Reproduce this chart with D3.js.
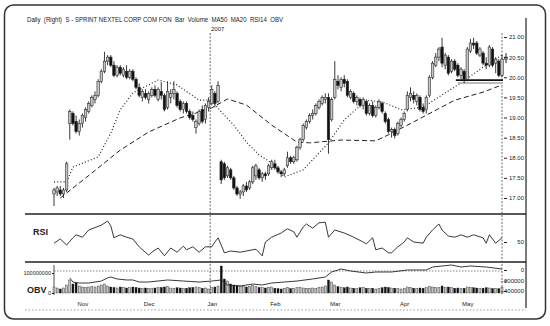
<!DOCTYPE html>
<html>
<head>
<meta charset="utf-8">
<script src="https://cdn.jsdelivr.net/npm/d3@7"></script>
<style>
body { margin: 0; background: #fff; }
svg { display: block; font-family: "Liberation Sans", Arial, sans-serif; }
.title { white-space: pre; }
</style>
</head>
<body>
<div id="chart"></div>
<script>
const WIDTH = 550
const HEIGHT = 326

// daily bars, index 0 = Oct 19 2006 ... 142 = May 16 2007  [open, high, low, close]
const bars = [
  [17.10,17.25,16.80,17.20],[17.15,17.30,17.05,17.25],[17.20,17.30,17.05,17.10],[17.10,17.25,17.00,17.20],
  [17.20,17.90,17.15,17.85],[18.85,19.20,18.45,19.15],[19.10,19.15,18.80,18.85],[18.90,19.05,18.60,18.65],
  [18.65,18.95,18.55,18.85],[18.85,19.10,18.75,19.05],[19.00,19.25,18.90,19.20],[19.15,19.40,19.10,19.35],
  [19.30,19.55,19.25,19.50],[19.45,19.65,19.35,19.55],[19.55,19.95,19.50,19.90],[19.90,20.20,19.85,20.15],
  [20.15,20.63,20.10,20.40],[20.40,20.55,20.30,20.50],[20.50,20.55,20.25,20.30],[20.30,20.40,20.00,20.05],
  [20.05,20.30,20.00,20.25],[20.25,20.30,20.05,20.10],[20.05,20.25,20.00,20.20],[20.15,20.30,19.95,20.00],
  [20.00,20.20,19.95,20.15],[20.15,20.20,19.90,19.95],[19.95,20.00,19.70,19.75],[19.75,19.85,19.50,19.55],
  [19.50,19.70,19.40,19.65],[19.60,19.70,19.45,19.50],[19.45,19.65,19.35,19.60],[19.55,19.75,19.50,19.70],
  [19.70,19.80,19.50,19.55],[19.45,19.75,19.40,19.70],[19.65,19.88,19.45,19.55],[19.55,19.60,19.15,19.20],
  [19.25,19.90,19.20,19.65],[19.50,19.70,19.35,19.60],[19.60,19.90,19.45,19.70],[19.60,19.65,19.25,19.30],
  [19.40,19.45,19.15,19.20],[19.20,19.40,19.10,19.35],[19.35,19.40,19.10,19.15],[19.15,19.20,18.95,19.00],
  [19.05,19.15,18.90,18.95],[18.75,18.95,18.60,18.90],[18.85,19.20,18.80,19.15],[19.20,19.30,18.85,18.90],
  [18.95,19.35,18.85,19.30],[19.25,19.50,19.15,19.40],[19.35,19.80,19.30,19.70],[19.60,19.65,19.25,19.35],
  [19.40,19.90,19.35,19.80],[17.90,17.95,17.35,17.45],[17.85,17.90,17.45,17.50],[17.55,17.80,17.50,17.75],
  [17.70,17.75,17.45,17.50],[17.50,17.55,17.20,17.25],[17.25,17.30,17.05,17.10],[17.10,17.20,16.98,17.15],
  [17.15,17.35,17.05,17.30],[17.30,17.40,17.15,17.20],[17.25,17.45,17.20,17.40],[17.40,17.80,17.35,17.75],
  [17.55,17.85,17.45,17.80],[17.70,17.75,17.45,17.50],[17.50,17.65,17.40,17.60],[17.60,17.65,17.45,17.55],
  [17.60,17.85,17.55,17.80],[17.75,17.95,17.70,17.90],[17.85,17.95,17.70,17.75],[17.75,17.80,17.60,17.65],
  [17.65,17.70,17.52,17.60],[17.60,17.75,17.55,17.70],[17.80,18.15,17.75,18.00],[18.00,18.05,17.85,17.90],
  [17.90,18.05,17.85,18.00],[17.95,18.30,17.90,18.25],[18.25,18.50,18.20,18.45],[18.45,18.85,18.40,18.80],
  [18.75,18.95,18.70,18.90],[18.90,19.10,18.85,19.05],[19.05,19.20,18.95,19.10],[19.10,19.35,19.05,19.30],
  [19.25,19.45,19.20,19.40],[19.35,19.55,19.30,19.50],[19.45,19.60,19.35,19.50],[19.50,19.60,18.10,18.45],
  [18.95,19.50,18.90,19.45],[19.50,20.40,19.45,19.95],[19.90,20.05,19.70,19.80],[19.75,20.00,19.65,19.95],
  [19.95,20.05,19.75,19.85],[19.90,19.95,19.50,19.55],[19.50,19.70,19.45,19.65],[19.60,19.65,19.35,19.40],
  [19.40,19.55,19.30,19.50],[19.45,19.50,19.25,19.30],[19.30,19.50,19.20,19.45],[19.40,19.45,19.05,19.10],
  [19.10,19.35,19.05,19.30],[19.30,19.40,19.00,19.05],[19.05,19.30,19.00,19.25],[19.25,19.45,19.20,19.40],
  [19.35,19.40,19.10,19.15],[19.10,19.15,18.85,18.90],[18.95,19.00,18.60,18.65],[18.65,18.75,18.50,18.70],
  [18.70,18.75,18.48,18.55],[18.60,18.90,18.55,18.85],[18.80,19.00,18.75,18.95],[18.95,19.15,18.90,19.10],
  [19.20,19.65,19.15,19.55],[19.50,19.75,19.40,19.60],[19.55,19.65,19.35,19.45],[19.40,19.60,19.30,19.55],
  [19.50,19.55,19.15,19.20],[19.25,19.35,19.10,19.15],[19.20,19.55,19.10,19.50],[19.55,20.05,19.50,20.00],
  [20.00,20.40,19.95,20.35],[20.30,20.60,20.25,20.50],[20.50,20.75,20.40,20.70],[20.75,20.98,20.25,20.35],
  [20.30,20.60,20.20,20.55],[20.50,20.55,20.05,20.10],[20.15,20.45,20.10,20.40],[20.40,20.45,20.15,20.20],
  [20.30,20.35,20.00,20.05],[20.05,20.25,19.95,20.20],[20.15,20.20,19.85,19.95],[19.95,20.75,19.90,20.70],
  [20.65,20.95,20.60,20.85],[20.85,20.98,20.70,20.80],[20.85,20.90,20.55,20.60],[20.55,20.75,20.50,20.70],
  [20.60,20.65,20.30,20.35],[20.35,20.50,20.20,20.30],[20.30,20.80,20.25,20.75],[20.70,20.75,20.25,20.30],
  [20.35,20.50,20.10,20.45],[20.40,20.45,20.00,20.05],[20.05,20.55,20.00,20.45]
]

// volume in millions of shares, one per bar
const volume = [
  30,25,20,25,40, 65,45,50,35,30, 28,30,32,30,35, 40,45,35,30,28,
  25,30,28,25,26, 30,28,25,22,25, 24,22,25,26,28, 30,32,25,24,26,
  25,22,24,26,28, 30,26,24,25,20, 28,30,35,135,70, 60,45,40,38,35,
  32,30,34,38,32, 28,26,25,28,30, 24,22,20,24,28, 22,24,26,28,25,
  24,22,25,24,28, 30,35,65,55,40, 32,28,26,30,25, 24,22,26,28,24,
  22,24,20,22,26, 30,28,25,24,22, 20,22,30,28,24, 22,25,24,26,32,
  30,28,26,35,28, 30,26,24,25,22, 24,30,28,26,25, 22,24,26,25,22,
  24,22,28
]

const ma50Days = [2,12,21,30,40,45,50,55,61,69,77,81,91,102,106,114,120,127,136,142]
const ma50Values = [17.00,17.62,18.19,18.64,18.99,19.11,19.24,19.46,19.31,18.81,18.39,18.37,18.44,18.42,18.57,18.89,19.14,19.43,19.63,19.81]

const ma20Days = [0,4,6,14,18,21,25,33,39,46,50,53,57,61,65,69,73,79,84,87,92,98,100,105,110,117,129,136,142]
const ma20Values = [17.40,17.40,17.77,18.02,18.61,19.19,19.61,19.93,19.81,19.43,19.43,19.14,18.81,18.39,18.07,17.87,17.52,17.70,18.12,18.37,18.94,19.36,19.43,19.36,19.19,19.26,19.86,20.25,20.55]

const rsiDays = [0,2,4,6,7,9,11,15,17,18,19,21,23,25,27,30,31,33,35,37,39,41,42,44,46,48,50,51,52,53,54,56,59,64,66,67,69,72,74,76,77,79,80,82,84,86,87,89,92,95,98,99,101,102,104,106,107,109,111,112,114,117,118,120,122,123,125,127,129,131,133,136,137,138,140,142]
const rsiValues = [48,55,45,57,62,58,70,78,85,77,57,62,58,55,42,28,33,40,27,40,33,43,37,42,33,42,42,50,57,45,32,35,33,38,27,50,58,65,72,67,58,75,80,73,82,83,58,70,65,58,50,47,57,37,40,32,32,42,50,57,50,48,58,70,80,70,60,58,62,58,62,57,48,62,48,57]

const obvDays = [5,6,8,11,15,17,18,20,23,25,27,30,36,41,46,50,53,55,59,63,66,69,73,77,82,86,88,91,94,99,102,107,112,118,120,123,126,129,132,137,142]
const obvValues = [-150000,-230000,-248000,-248000,-210000,-150000,-133000,-171000,-190000,-190000,-229000,-229000,-190000,-210000,-229000,-210000,-190000,-286000,-305000,-267000,-286000,-248000,-229000,-210000,-171000,-133000,-38000,19000,-19000,-57000,-38000,-38000,0,0,57000,76000,95000,57000,76000,57000,19000]

const monthNames = ['Nov', 'Dec', 'Jan', 'Feb', 'Mar', 'Apr', 'May']
const monthStarts = [9, 30, 50, 70, 89, 111, 131]

const priceTicks = [17, 17.5, 18, 18.5, 19, 19.5, 20, 20.5, 21]
const rsiTicks = [50]
const obvTicks = [0, -200000, -400000]
const volTicks = [0, 100000000]

const supportLevel = 19.93
const supportDays = [128, 142]
const lastQuote = [20.45, 20.60, 20.35, 20.50]

const TITLE = 'Daily  (Right)  S - SPRINT NEXTEL CORP COM FON  Bar  Volume  MA50  MA20  RSI14  OBV'

const INK = '#222'
const UP_FILL = '#c6c6c6'

const main = _ => {

    const svg = d3.select('#chart')
        .append('svg')
        .attr('width', WIDTH)
        .attr('height', HEIGHT)

    const x = d3.scaleLinear().domain([0, bars.length - 1]).range([54, 502])
    const yPrice = d3.scaleLinear().domain([17, 21]).range([198, 37])
    const yRsi = d3.scaleLinear().domain([20, 80]).range([260, 224])
    const yVol = d3.scaleLinear().domain([0, 100000000]).range([293, 273])
    const yObv = d3.scaleLinear().domain([-400000, 0]).range([291, 270])

    const isUp = d => d[3] >= d[0]

    // frame
    svg.append('rect')
        .attr('x', 4.5).attr('y', 5)
        .attr('width', 541).attr('height', 314)
        .attr('rx', 9)
        .attr('fill', 'none')
        .attr('stroke', '#333')
        .attr('stroke-width', 1.5)

    svg.append('text')
        .attr('class', 'title')
        .attr('x', 27).attr('y', 22)
        .attr('font-size', 6.6)
        .attr('textLength', 256)
        .attr('lengthAdjust', 'spacingAndGlyphs')
        .attr('fill', INK)
        .text(TITLE)

    svg.append('text')
        .attr('x', 211).attr('y', 31)
        .attr('font-size', 6)
        .attr('fill', INK)
        .text('2007')

    // panel rules
    svg.selectAll('.sep')
        .data([214, 262])
        .enter()
        .append('line')
        .attr('x1', 25).attr('x2', 526)
        .attr('y1', d => d).attr('y2', d => d)
        .attr('stroke', INK)
        .attr('stroke-width', 1.6)

    svg.append('line')
        .attr('x1', 526).attr('x2', 526)
        .attr('y1', 18).attr('y2', 308)
        .attr('stroke', INK)
        .attr('stroke-width', 1.2)

    svg.append('line')
        .attr('x1', 25).attr('x2', 526)
        .attr('y1', 310).attr('y2', 310)
        .attr('stroke', '#999')
        .attr('stroke-dasharray', '1.5,2')

    // year divider and last-bar marker
    svg.selectAll('.vmark')
        .data([49.5, bars.length - 1])
        .enter()
        .append('line')
        .attr('x1', d => x(d)).attr('x2', d => x(d))
        .attr('y1', 33).attr('y2', 295)
        .attr('stroke', '#444')
        .attr('stroke-width', 0.8)
        .attr('stroke-dasharray', '2,1.5')

    // moving averages
    const priceLine = d3.line()
        .x(d => x(d[0]))
        .y(d => yPrice(d[1]))

    svg.append('path')
        .datum(d3.zip(ma50Days, ma50Values))
        .attr('d', priceLine)
        .attr('fill', 'none')
        .attr('stroke', INK)
        .attr('stroke-width', 1)
        .attr('stroke-dasharray', '5,3')

    svg.append('path')
        .datum(d3.zip(ma20Days, ma20Values))
        .attr('d', priceLine)
        .attr('fill', 'none')
        .attr('stroke', INK)
        .attr('stroke-width', 1.2)
        .attr('stroke-dasharray', '1,2.2')

    // support line
    svg.append('line')
        .attr('x1', x(supportDays[0])).attr('x2', x(supportDays[1]) + 1)
        .attr('y1', yPrice(supportLevel) + 3).attr('y2', yPrice(supportLevel) + 3)
        .attr('stroke', '#bbb')
        .attr('stroke-width', 2)

    svg.append('line')
        .attr('x1', x(supportDays[0]) - 2).attr('x2', x(supportDays[1]) + 1)
        .attr('y1', yPrice(supportLevel)).attr('y2', yPrice(supportLevel))
        .attr('stroke', '#111')
        .attr('stroke-width', 1.8)

    // candles
    const candles = svg.append('g')

    candles.selectAll('line')
        .data(bars)
        .enter()
        .append('line')
        .attr('x1', (d, i) => x(i)).attr('x2', (d, i) => x(i))
        .attr('y1', d => yPrice(d[1])).attr('y2', d => yPrice(d[2]))
        .attr('stroke', INK)
        .attr('stroke-width', 0.9)

    candles.selectAll('rect')
        .data(bars)
        .enter()
        .append('rect')
        .attr('x', (d, i) => x(i) - 1.25)
        .attr('width', 2.5)
        .attr('y', d => yPrice(Math.max(d[0], d[3])))
        .attr('height', d => Math.max(0.8, Math.abs(yPrice(d[0]) - yPrice(d[3]))))
        .attr('fill', d => isUp(d) ? UP_FILL : '#111')
        .attr('stroke', INK)
        .attr('stroke-width', 0.55)

    const lastX = x(bars.length - 1) + 4
    svg.append('line')
        .attr('x1', lastX).attr('x2', lastX)
        .attr('y1', yPrice(lastQuote[1])).attr('y2', yPrice(lastQuote[2]))
        .attr('stroke', INK)
    svg.append('rect')
        .attr('x', lastX - 1.5).attr('width', 3)
        .attr('y', yPrice(lastQuote[3]))
        .attr('height', yPrice(lastQuote[0]) - yPrice(lastQuote[3]))
        .attr('fill', UP_FILL)
        .attr('stroke', INK)
        .attr('stroke-width', 0.6)

    // RSI
    svg.append('path')
        .datum(d3.zip(rsiDays, rsiValues))
        .attr('d', d3.line().x(d => x(d[0])).y(d => yRsi(d[1])))
        .attr('fill', 'none')
        .attr('stroke', INK)
        .attr('stroke-width', 0.9)

    svg.append('text')
        .attr('x', 33).attr('y', 235)
        .attr('font-size', 9)
        .attr('font-weight', 'bold')
        .attr('fill', INK)
        .text('RSI')

    // volume + OBV
    svg.append('line')
        .attr('x1', x(0)).attr('x2', x(bars.length - 1))
        .attr('y1', yObv(0) + 1).attr('y2', yObv(0) + 1)
        .attr('stroke', '#555')
        .attr('stroke-width', 0.7)
        .attr('stroke-dasharray', '1.5,1.5')

    svg.append('line')
        .attr('x1', 54).attr('x2', 54)
        .attr('y1', 265).attr('y2', 295)
        .attr('stroke', INK)
        .attr('stroke-width', 0.8)

    svg.append('g').selectAll('rect')
        .data(volume)
        .enter()
        .append('rect')
        .attr('x', (d, i) => x(i) - 1)
        .attr('width', 2)
        .attr('y', d => yVol(d * 1e6))
        .attr('height', d => yVol(0) - yVol(d * 1e6))
        .attr('fill', (d, i) => isUp(bars[i]) ? UP_FILL : '#111')
        .attr('stroke', INK)
        .attr('stroke-width', 0.4)

    svg.append('path')
        .datum(d3.zip(obvDays, obvValues))
        .attr('d', d3.line().x(d => x(d[0])).y(d => yObv(d[1])))
        .attr('fill', 'none')
        .attr('stroke', INK)
        .attr('stroke-width', 0.9)

    svg.append('text')
        .attr('x', 27).attr('y', 293)
        .attr('font-size', 9)
        .attr('font-weight', 'bold')
        .attr('fill', INK)
        .text('OBV')

    // axes
    const styleAxis = (g, size) => {
        g.select('.domain').remove()
        g.selectAll('text')
            .attr('font-size', size)
            .attr('font-family', '"Liberation Sans", Arial, sans-serif')
            .attr('fill', INK)
        g.selectAll('line').attr('stroke', INK)
    }

    const rightAxis = (scale, ticks, fmt) => {
        const g = svg.append('g')
            .attr('transform', 'translate(504,0)')
            .call(d3.axisRight(scale).tickValues(ticks).tickFormat(fmt).tickSize(3).tickPadding(0))
        styleAxis(g, 6)
        g.selectAll('text').attr('x', 20).attr('text-anchor', 'end')
    }

    rightAxis(yPrice, priceTicks, d3.format('.2f'))
    rightAxis(yRsi, rsiTicks, d3.format('d'))
    rightAxis(yObv, obvTicks, d3.format('d'))

    const volAxis = svg.append('g')
        .attr('transform', 'translate(54,0)')
        .call(d3.axisLeft(yVol).tickValues(volTicks).tickFormat(d3.format('d')).tickSize(2).tickPadding(1))
    styleAxis(volAxis, 5.5)

    const monthAxis = svg.append('g')
        .attr('transform', 'translate(0,299)')
        .call(d3.axisBottom(x).tickValues(monthStarts).tickFormat((d, i) => monthNames[i]).tickSize(0).tickPadding(3))
    styleAxis(monthAxis, 6)
}

document.addEventListener('DOMContentLoaded', main)
</script>
</body>
</html>
